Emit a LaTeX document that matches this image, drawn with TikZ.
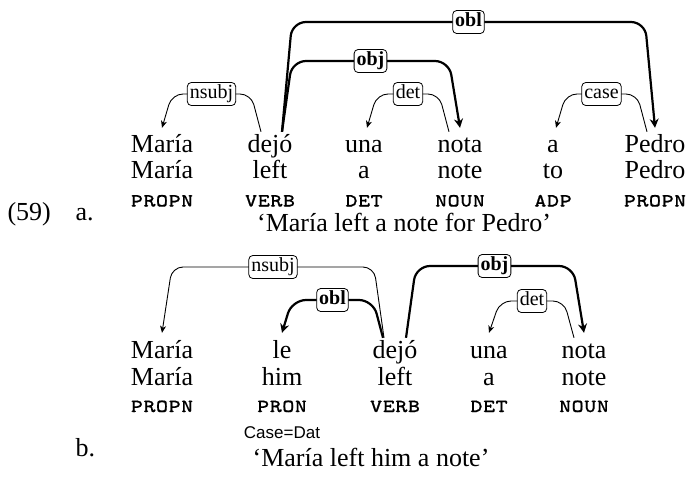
\documentclass[tikz,border=0pt]{standalone}
\usepackage{fontspec}
\setmainfont{Liberation Serif}
\newfontfamily\featfont{Liberation Sans}
\newfontfamily\tagfont{lmmonocaps10-regular.otf}[FakeBold=0.5]
\usetikzlibrary{arrows.meta}

\newcommand{\wordsize}{\fontsize{26}{26}\selectfont}
\newcommand{\tagsize}{\fontsize{24}{26}\selectfont\tagfont}
\newcommand{\labsize}{\fontsize{20}{20}\selectfont}

\begin{document}
\begin{tikzpicture}[x=1pt, y=-1pt,
  word/.style={anchor=base, inner sep=0pt, text height=18pt, text depth=6pt, font=\wordsize},
  tag/.style={anchor=base, inner sep=0pt, font=\tagsize},
  lab/.style={draw, fill=white, rounded corners=4pt, inner sep=2.5pt, line width=0.8pt,
    text height=13.5pt, text depth=4.5pt, font=\labsize},
  boldlab/.style={lab, font=\labsize\bfseries},
  dep/.style={line width=0.9pt, rounded corners=11pt, -{Stealth[length=7pt, width=6pt, inset=2pt]}},
  depbold/.style={line width=2.2pt, rounded corners=14pt, -{Stealth[length=9pt, width=9pt, inset=3pt]}}]
  \useasboundingbox (0,0) rectangle (690,477);

  % ----- Example number -----
  \node[anchor=base west, font=\wordsize] (ex-num) at (4,220) {(59)};
  \node[anchor=base west, font=\wordsize] (ex-a) at (72,220) {a.};
  \node[anchor=base west, font=\wordsize] (ex-b) at (72,456) {b.};

  % ----- Sentence (a): words, glosses, tags -----
  \foreach \x/\w/\g/\t [count=\i] in {162/María/María/propn, 270/dejó/left/verb,
      364/una/a/det, 460/nota/note/noun, 553/a/to/adp, 655/Pedro/Pedro/propn} {
    \node[word] (a-w\i) at (\x,152) {\w};
    \node[word] (a-g\i) at (\x,178) {\g};
    \node[tag] (a-t\i) at (\x,206.5) {\t};
  }
  \node[anchor=base, font=\wordsize] (a-trans) at (404,231) {‘María left a note for Pedro’};

  % arcs (a)
  \draw[dep] ([xshift=-9pt, yshift=2pt]a-w2.north) -- (251,94)
    -- node[lab] (a-nsubj) {nsubj} (172,94) -- ([yshift=6pt]a-w1.north);
  \draw[dep] ([xshift=-11pt, yshift=2pt]a-w4.north) -- (439,94)
    -- node[lab] (a-det) {det} (377,94) -- ([xshift=3pt, yshift=6pt]a-w3.north);
  \draw[dep] ([xshift=-8pt, yshift=2pt]a-w6.north) -- (637,94)
    -- node[lab] (a-case) {case} (566,94) -- ([xshift=3pt, yshift=6pt]a-w5.north);
  \draw[depbold] ([xshift=12pt, yshift=2pt]a-w2.north) -- (292,61)
    -- node[boldlab] (a-obj) {obj} (449,61) -- ([yshift=6pt]a-w4.north);
  \draw[depbold] ([xshift=12pt, yshift=2pt]a-w2.north) -- (292,22)
    -- node[boldlab] (a-obl) {obl} (645,22) -- ([yshift=6pt]a-w6.north);

  % ----- Sentence (b): words, glosses, tags -----
  \foreach \x/\w/\g/\t [count=\i] in {162/María/María/propn, 282/le/him/pron,
      395/dejó/left/verb, 489/una/a/det, 584/nota/note/noun} {
    \node[word] (b-w\i) at (\x,358) {\w};
    \node[word] (b-g\i) at (\x,385) {\g};
    \node[tag] (b-t\i) at (\x,412) {\t};
  }
  \node[anchor=base, font=\fontsize{17}{17}\selectfont\featfont] (b-feat) at (282,438) {Case=Dat};
  \node[anchor=base, font=\wordsize] (b-trans) at (371,466) {‘María left him a note’};

  % arcs (b)
  \draw[dep] ([xshift=-11pt, yshift=2pt]b-w3.north) -- (374,267)
    -- node[lab] (b-nsubj) {nsubj} (172,267) -- ([yshift=7pt]b-w1.north);
  \draw[dep] ([xshift=-10pt, yshift=2pt]b-w5.north) -- (564,301)
    -- node[lab] (b-det) {det} (500,301) -- ([yshift=7pt]b-w4.north);
  \draw[depbold] ([xshift=-12pt, yshift=2pt]b-w3.north) -- (373,300)
    -- node[boldlab] (b-obl) {obl} (292,300) -- ([yshift=7pt]b-w2.north);
  \draw[depbold] ([xshift=11pt, yshift=2pt]b-w3.north) -- (416,266)
    -- node[boldlab] (b-obj) {obj} (573,266) -- ([yshift=7pt]b-w5.north);
\end{tikzpicture}
\end{document}
